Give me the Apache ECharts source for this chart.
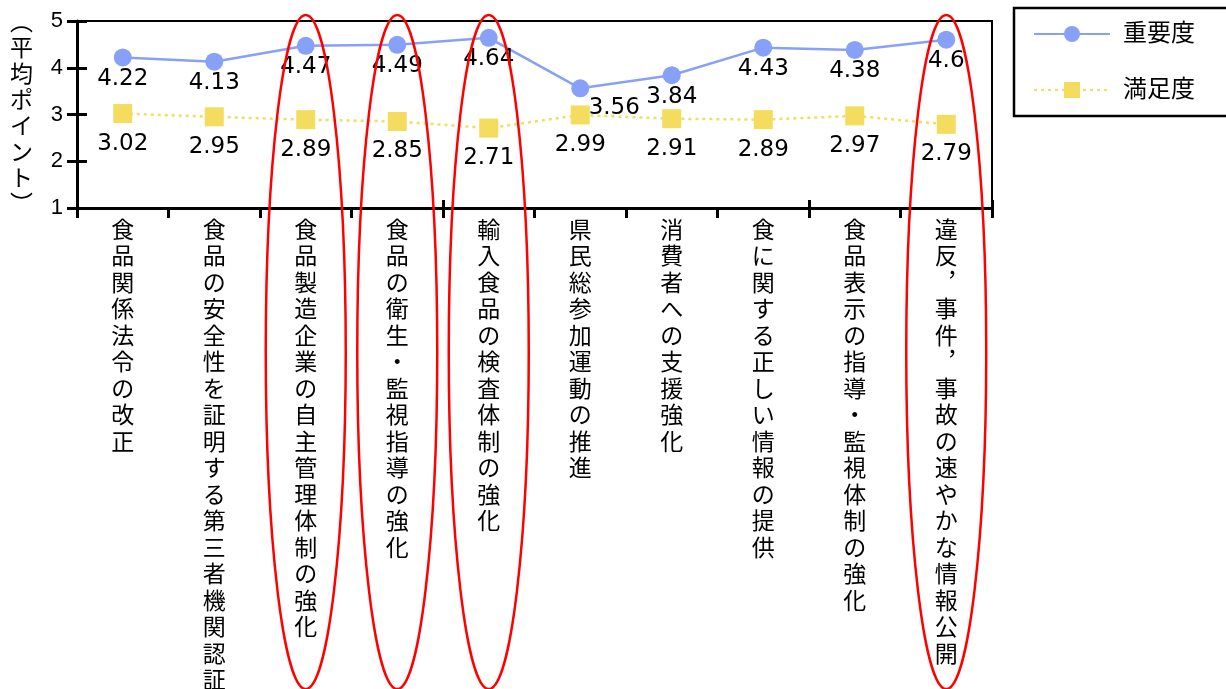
<!DOCTYPE html>
<html><head><meta charset="utf-8">
<script src="https://cdn.jsdelivr.net/npm/echarts@6/dist/echarts.min.js"></script>
<style>html,body{margin:0;padding:0;background:#fff}#c{width:1226px;height:689px}</style>
</head><body><div id="c"></div>
<script>
const categories = ['食品関係法令の改正','食品の安全性を証明する第三者機関認証','食品製造企業の自主管理体制の強化','食品の衛生・監視指導の強化','輸入食品の検査体制の強化','県民総参加運動の推進','消費者への支援強化','食に関する正しい情報の提供','食品表示の指導・監視体制の強化','違反，事件，事故の速やかな情報公開'];
const importance = [4.22,4.13,4.47,4.49,4.64,3.56,3.84,4.43,4.38,4.6];
const satisfaction = [3.02,2.95,2.89,2.85,2.71,2.99,2.91,2.89,2.97,2.79];
const highlighted = [2,3,4,9];
const yTicks = [1,2,3,4,5];
const seriesNames = ['重要度','満足度'];

const FONT = '"Liberation Sans","Noto Sans CJK JP",sans-serif';
const NUMFONT = '"DejaVu Sans","Liberation Sans",sans-serif';
const chart = echarts.init(document.getElementById('c'));
const vert = s => s.replace(/，/g,'︐').split('').join('\n');

const impData = importance.map((v,i)=> i===5 ? {value:v,label:{offset:[34,-2]}} : v);

chart.setOption({
  animation:false,
  textStyle:{fontFamily:FONT},
  grid:{left:77,top:21,right:234,bottom:481,outerBoundsMode:'none',containLabel:false,show:true,borderColor:'#000',borderWidth:2,backgroundColor:'transparent'},
  legend:{
    orient:'vertical',left:1014,top:8,
    padding:[14,34,14,19],itemGap:32,itemWidth:76,itemHeight:20,
    borderColor:'#000',borderWidth:2.5,backgroundColor:'#fff',
    textStyle:{fontSize:24,color:'#000',fontFamily:FONT,padding:[0,0,0,8]},
    data:seriesNames
  },
  xAxis:[{
    type:'category',data:categories,position:'bottom',
    axisLine:{lineStyle:{color:'#000',width:3}},
    axisTick:{show:true,length:10,lineStyle:{color:'#000',width:3}},
    axisLabel:{interval:0,margin:10,fontSize:23,lineHeight:26.5,color:'#000',verticalAlign:'top',formatter:vert}
  },{
    type:'category',data:categories,position:'bottom',
    axisLine:{show:false},
    axisTick:{show:true,inside:true,length:8,lineStyle:{color:'#000',width:3}},
    axisLabel:{show:false}
  }],
  yAxis:[{
    type:'value',min:yTicks[0],max:yTicks[yTicks.length-1],interval:1,
    name:vert('︵平均ポイント︶'),nameLocation:'middle',nameRotate:0,nameGap:44,
    nameTextStyle:{fontSize:23,lineHeight:26,color:'#000',padding:[0,0,0,6]},
    axisLine:{show:true,lineStyle:{color:'#000',width:3}},
    axisTick:{show:true,length:10,lineStyle:{color:'#000',width:3}},
    axisLabel:{margin:14,fontSize:22,color:'#000'},
    splitLine:{show:false}
  },{
    type:'value',min:yTicks[0],max:yTicks[yTicks.length-1],interval:1,position:'left',
    axisLine:{show:false},
    axisTick:{show:true,inside:true,length:10,lineStyle:{color:'#000',width:3}},
    axisLabel:{show:false},splitLine:{show:false}
  }],
  series:[{
    name:seriesNames[0],type:'line',data:impData,
    symbol:'circle',symbolSize:18,
    itemStyle:{color:'#87a1f8'},
    lineStyle:{color:'#87a1f8',width:2.5,type:'solid'},
    label:{show:true,position:'bottom',distance:1,fontSize:23,color:'#000',fontFamily:NUMFONT}
  },{
    name:seriesNames[1],type:'line',data:satisfaction,
    symbol:'rect',symbolSize:19,
    itemStyle:{color:'#f3dc5e'},
    lineStyle:{color:'#f3dc5e',width:2.5,type:[3,4]},
    label:{show:true,position:'bottom',distance:9,fontSize:23,color:'#000',fontFamily:NUMFONT}
  }]
});

const cy = 352, ry = 337, rx = 40;
chart.setOption({
  graphic: highlighted.map(i => {
    const cx = chart.convertToPixel({xAxisIndex:0}, categories[i]);
    return {type:'ellipse',z:100,silent:true,shape:{cx:cx,cy:cy,rx:rx,ry:ry},style:{fill:null,stroke:'#ff0000',lineWidth:2.5}};
  })
});
</script>
</body></html>
